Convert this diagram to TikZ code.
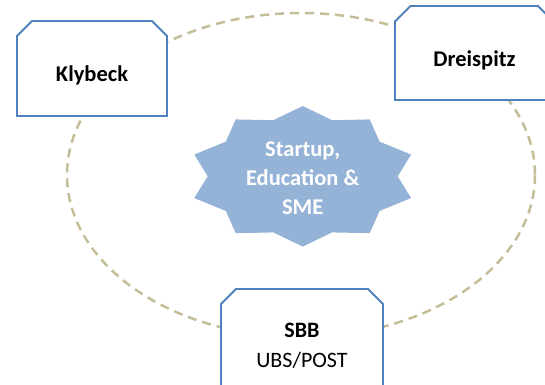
\documentclass[tikz,border=0pt]{standalone}
\usepackage{fontspec}
\setmainfont{Carlito}
\definecolor{boxblue}{HTML}{4F81BD}
\definecolor{starblue}{HTML}{95B3D7}
\definecolor{ringtan}{HTML}{C4BD97}
\begin{document}
\begin{tikzpicture}[x=1pt,y=-1pt,
  ring/.style={draw=ringtan, line width=2.5pt, dash pattern=on 9pt off 6pt},
  snipbox/.style={draw=boxblue, fill=white, line width=1.8pt, line join=miter},
  lbl/.style={inner sep=0pt, font=\fontsize{22.5}{29}\selectfont\bfseries},
  startxt/.style={inner sep=0pt, align=center, text=white, font=\fontsize{22.5}{29.2}\selectfont\bfseries},
  sbbtxt/.style={inner sep=0pt, align=center, font=\fontsize{22}{30}\selectfont}]
\useasboundingbox (0,0) rectangle (545,384);
\clip (0,0) rectangle (545,384);
% dashed ring
\draw[ring] (301,175) ellipse [x radius=234, y radius=162];
% star
\fill[starblue] (302.7,106.0)
  \foreach \i in {1,...,19} {
    -- ({302.7+ifthenelse(mod(\i,2)==0,114,95)*cos(90+18*\i)},
        {176.3-ifthenelse(mod(\i,2)==0,70.3,59)*sin(90+18*\i)})
  } -- cycle;
\node[startxt] (star) at (302.7,178.4) {Startup,\\Education \&\\SME};
% Klybeck
\draw[snipbox] (17,116) -- (17,36) -- (32,21) -- (152,21) -- (167,36) -- (167,116) -- cycle;
\node[lbl, anchor=base] (kly) at (92,81.7) {Klybeck};
% Dreispitz
\draw[snipbox] (395,100) -- (395,21.5) -- (410.5,6) -- (538,6) -- (553.5,21.5) -- (553.5,100) -- cycle;
\node[lbl, anchor=base] (dre) at (474.5,66.7) {Dreispitz};
% SBB
\draw[snipbox] (221,395) -- (221,304) -- (236,289) -- (368,289) -- (383,304) -- (383,395) -- cycle;
\node[sbbtxt] (sbb) at (302,345.5) {{\bfseries SBB}\\UBS/POST};
\end{tikzpicture}
\end{document}
